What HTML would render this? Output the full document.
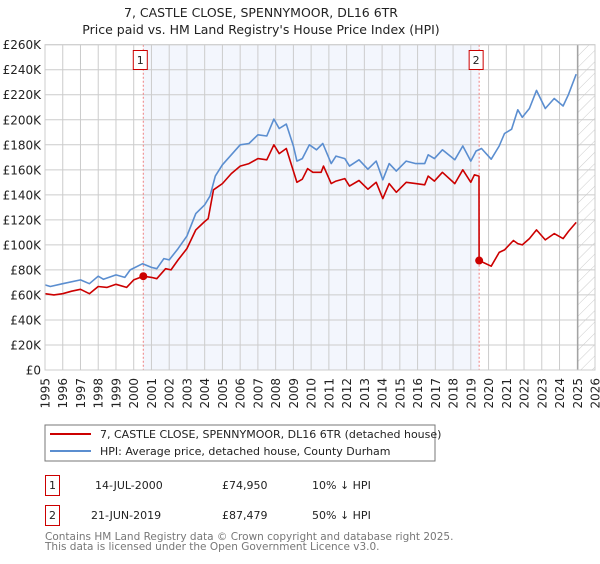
<!DOCTYPE html>
<html><head><meta charset="utf-8"><style>
body{margin:0;background:#fff;width:600px;height:560px;overflow:hidden;font-family:"DejaVu Sans","Liberation Sans",sans-serif}
svg text{font-family:"DejaVu Sans","Liberation Sans",sans-serif}
</style></head><body>
<svg id="c" width="600" height="560" viewBox="0 0 600 560">
<defs><pattern id="hatch" width="8" height="8" patternUnits="userSpaceOnUse" patternTransform="rotate(45)"><line x1="0" y1="0" x2="0" y2="8" stroke="#ccc" stroke-width="1"/></pattern></defs>
<text x="261" y="17" text-anchor="middle" font-size="12.5" fill="#222">7, CASTLE CLOSE, SPENNYMOOR, DL16 6TR</text>
<text x="261" y="34" text-anchor="middle" font-size="12.5" fill="#222">Price paid vs. HM Land Registry's House Price Index (HPI)</text>
<g id="plot"></g>
<rect x="45" y="425" width="390" height="36" fill="#fff" stroke="#777"/>
<line x1="50" y1="434" x2="91" y2="434" stroke="#cc0000" stroke-width="2"/>
<text x="100" y="438" font-size="11" fill="#222">7, CASTLE CLOSE, SPENNYMOOR, DL16 6TR (detached house)</text>
<line x1="50" y1="451" x2="91" y2="451" stroke="#5b8ed0" stroke-width="2"/>
<text x="100" y="455" font-size="11" fill="#222">HPI: Average price, detached house, County Durham</text>
<g>
<rect x="45.5" y="475.5" width="14" height="20" fill="none" stroke="#cc0000"/>
<text x="52.5" y="489" text-anchor="middle" font-size="11" fill="#222">1</text>
<text x="95" y="489" font-size="11" fill="#222">14-JUL-2000</text>
<text x="222" y="489" font-size="11" fill="#222">£74,950</text>
<text x="312" y="489" font-size="11" fill="#222">10% ↓ HPI</text></g>
<g>
<rect x="45.5" y="505.5" width="14" height="20" fill="none" stroke="#cc0000"/>
<text x="52.5" y="519" text-anchor="middle" font-size="11" fill="#222">2</text>
<text x="91" y="519" font-size="11" fill="#222">21-JUN-2019</text>
<text x="222" y="519" font-size="11" fill="#222">£87,479</text>
<text x="312" y="519" font-size="11" fill="#222">50% ↓ HPI</text></g>
<text x="45" y="540" font-size="10.5" fill="#777">Contains HM Land Registry data © Crown copyright and database right 2025.</text>
<text x="45" y="550" font-size="10.5" fill="#777">This data is licensed under the Open Government Licence v3.0.</text>
</svg>
<script>
const hpiYears=[1995,1995.3,1996,1997,1997.5,1998,1998.3,1999,1999.5,1999.8,2000.5,2001,2001.3,2001.7,2002,2002.5,2003,2003.5,2004,2004.3,2004.6,2005,2005.5,2006,2006.5,2007,2007.5,2007.9,2008.2,2008.6,2009,2009.2,2009.5,2009.9,2010.3,2010.66,2011.13,2011.4,2011.9,2012.16,2012.7,2013.2,2013.67,2014.04,2014.4,2014.8,2015.36,2015.9,2016.4,2016.6,2016.95,2017.4,2018.1,2018.55,2019.0,2019.3,2019.6,2020.15,2020.6,2020.9,2021.3,2021.65,2021.9,2022.3,2022.7,2023.2,2023.7,2024.2,2024.5,2024.94];
const hpiValues=[68,66.7,69,72,69,75,72.5,76,74,80,85,82,81,89,88,97,107,125,132,139,155,164,172,180,181,188,187,200.5,193,196.5,179,167,169,180,176,181,165,171,169,163,168,160.5,167,152,165,159,167,165,165,172,169,176,168,179,167,175,177,168.5,179,189,192.5,208,202,209,223.5,209,217,211,220,236.5];
const priceYears=[1995,1995.5,1996,1996.5,1997,1997.5,1998,1998.5,1999,1999.6,2000,2000.54,2001,2001.3,2001.8,2002.1,2002.5,2003,2003.5,2004,2004.2,2004.5,2005,2005.5,2006,2006.5,2007,2007.5,2007.9,2008.2,2008.6,2009,2009.2,2009.5,2009.8,2010.1,2010.56,2010.7,2011.13,2011.4,2011.9,2012.16,2012.7,2013.2,2013.67,2014.04,2014.4,2014.8,2015.36,2015.9,2016.4,2016.6,2016.95,2017.4,2018.1,2018.55,2019.0,2019.2,2019.46,2019.47,2020.15,2020.6,2020.9,2021.4,2021.65,2021.9,2022.3,2022.7,2023.2,2023.7,2024.2,2024.5,2024.94];
const priceValues=[61,60,61,63,64.5,61,66.7,66,68.5,66,72,75,74,73,81,80,88,97,112,118.7,121,144,149,157,163,165,169,168,180,173,177,159,150,152.5,161,158,158,163,149,151,153,147,151.5,144.5,150,137,149,142,150,149,148,155,151,158,149,160,150,156,155,87.5,83,94,96,103.5,101,100,105,112,104,109,105,110.7,118];
const sales=[{n:"1",year:2000.54,value:74.95},{n:"2",year:2019.47,value:87.479}];
const yTicks=[0,20,40,60,80,100,120,140,160,180,200,220,240,260];
const xTicks=[1995,1996,1997,1998,1999,2000,2001,2002,2003,2004,2005,2006,2007,2008,2009,2010,2011,2012,2013,2014,2015,2016,2017,2018,2019,2020,2021,2022,2023,2024,2025,2026];
const X0=45,X1=595,Y0=370,Y1=44.7,xmin=1995,xmax=2026,ymax=260,dataEnd=2025.03;
const sx=v=>X0+(v-xmin)/(xmax-xmin)*(X1-X0);
const sy=v=>Y0-v/ymax*(Y0-Y1);
const NS="http://www.w3.org/2000/svg";
const g=document.getElementById('plot');
function mk(t,a,p){const e=document.createElementNS(NS,t);for(const k in a)e.setAttribute(k,a[k]);(p||g).appendChild(e);return e;}
let e;
e=mk('rect',{x:X0,y:Y1,width:X1-X0,height:Y0-Y1,fill:'#fff'});
e=mk('rect',{x:sx(sales[0].year),y:Y1,width:sx(sales[1].year)-sx(sales[0].year),height:Y0-Y1,fill:'#f3f6fd'});


e=mk('rect',{x:sx(dataEnd),y:Y1,width:X1-sx(dataEnd),height:Y0-Y1,fill:'url(#hatch)'});


yTicks.forEach(t=>{
 e=mk('line',{x1:X0,x2:X1,y1:sy(t),y2:sy(t),stroke:'#ccc','stroke-width':1});
 
 
 e=mk('text',{x:X0-4,y:sy(t)+4.5,'text-anchor':'end','font-size':12,fill:'#222'});
 e.textContent=t===0?'£0':'£'+t+'K';
 
 
});
xTicks.forEach(t=>{
 e=mk('line',{x1:sx(t),x2:sx(t),y1:Y1,y2:Y0,stroke:'#ccc','stroke-width':1});
 
 
 e=mk('text',{x:0,y:0,'text-anchor':'end','font-size':12,fill:'#222',transform:`translate(${sx(t)+4.5},378) rotate(-90)`});
 e.textContent=t;
 
 
});
e=mk('line',{x1:sx(dataEnd),x2:sx(dataEnd),y1:Y1,y2:Y0,stroke:'#999','stroke-width':1.2});


sales.forEach(s=>{
 e=mk('line',{x1:sx(s.year),x2:sx(s.year),y1:Y1,y2:Y0,stroke:'#f08080','stroke-width':1,'stroke-dasharray':'2,2'});
 
 
});
function path(xs,ys){return xs.map((x,i)=>(i?'L':'M')+sx(x).toFixed(1)+','+sy(ys[i]).toFixed(1)).join('');}
e=mk('path',{d:path(hpiYears,hpiValues),fill:'none',stroke:'#5b8ed0','stroke-width':1.6,'stroke-linejoin':'round'});


e=mk('path',{d:path(priceYears,priceValues),fill:'none',stroke:'#cc0000','stroke-width':1.6,'stroke-linejoin':'round'});


sales.forEach(s=>{
 e=mk('circle',{cx:sx(s.year),cy:sy(s.value),r:4,fill:'#cc0000'});
 
 
 e=mk('rect',{x:sx(s.year)-10,y:50.5,width:14,height:19,fill:'#fff',stroke:'#cc0000'});
 
 
 e=mk('text',{x:sx(s.year)-3,y:64,'text-anchor':'middle','font-size':11,fill:'#222'});
 e.textContent=s.n;
 
 
});
e=mk('rect',{x:X0,y:Y1,width:X1-X0,height:Y0-Y1,fill:'none',stroke:'#ccc'});
</script>
</body></html>
